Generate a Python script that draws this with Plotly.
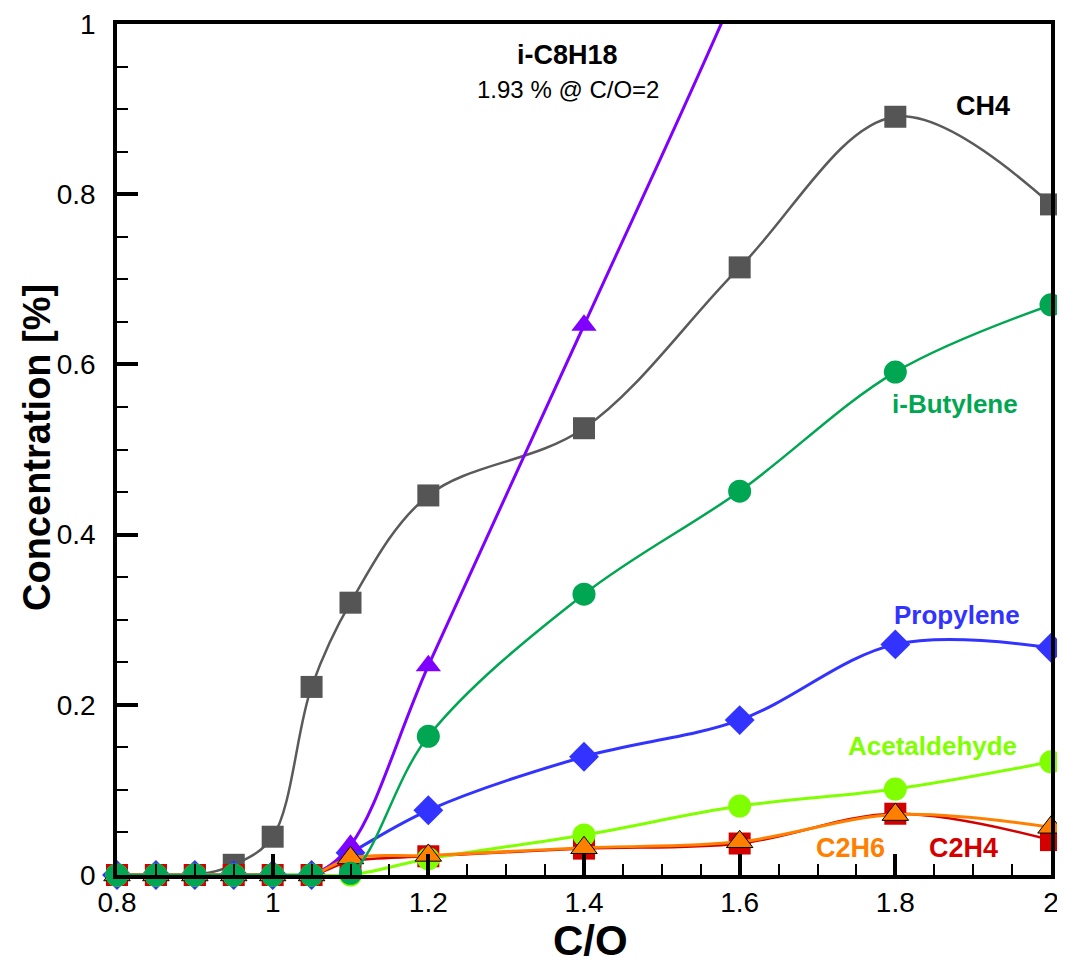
import plotly.graph_objects as go

co = [0.8, 0.85, 0.9, 0.95, 1.0, 1.05, 1.1, 1.2, 1.4, 1.6, 1.8, 2.0]

ch4 = [0, 0, 0, 0.012, 0.045, 0.221, 0.320, 0.446, 0.525, 0.714, 0.891, 0.788]
ic8h18 = [0, 0, 0, 0, 0, 0, 0.035, 0.246, 0.646, 1.05, 1.50, 1.93]
ibutylene = [0, 0, 0, 0, 0, 0, 0.002, 0.163, 0.330, 0.451, 0.591, 0.670]
propylene = [0, 0, 0, 0, 0, 0, 0.026, 0.076, 0.139, 0.182, 0.271, 0.267]
acetaldehyde = [0, 0, 0, 0, 0, 0, 0, 0.019, 0.047, 0.081, 0.101, 0.133]
c2h6 = [0, 0, 0, 0, 0, 0, 0.020, 0.023, 0.032, 0.039, 0.071, 0.056]
c2h4 = [0, 0, 0, 0, 0, 0, 0.016, 0.022, 0.031, 0.037, 0.072, 0.041]

FONT = "Liberation Sans, Arial, sans-serif"

fig = go.Figure()

def add(y, color, symbol, size, lw, lcolor=None, outline=None):
    fig.add_trace(go.Scatter(
        x=co, y=y, mode="lines+markers",
        line=dict(color=lcolor or color, width=lw, shape="spline", smoothing=1.0),
        marker=dict(symbol=symbol, size=size, color=color,
                    line=dict(color=outline or color, width=1 if outline else 0)),
        cliponaxis=False, showlegend=False))

add(ch4, "#555555", "square", 22, 2.5, lcolor="#5a5a5a")
add(c2h4, "#d40000", "square", 22, 2.5)
add(propylene, "#3333ff", "diamond", 23, 3)
add(ic8h18, "#8000ff", "triangle-up", 22, 3)
add(acetaldehyde, "#80ff00", "circle", 23, 3)
add(c2h6, "#ff8000", "triangle-up", 23, 3, outline="#000000")
add(ibutylene, "#00a651", "circle", 23, 2.5)

OFF = 8  # page body margin
W, H = 1057, 957
L, T = 117 - OFF, 24 - OFF
pw, ph = 934, 851
R, B = W - L - pw, H - T - ph

labels = [
    ("<b>i-C8H18</b>", 567, 55, "#000000", 27, 0),
    ("1.93 % @ C/O=2", 568, 90, "#000000", 24, 0),
    ("<b>CH4</b>", 983, 106, "#000000", 27, 0),
    ("<b>i-Butylene</b>", 955, 404, "#00a651", 26, 0),
    ("<b>Propylene</b>", 957, 615, "#3333ff", 26, 0),
    ("<b>Acetaldehyde</b>", 932, 746, "#80ff00", 26, 0),
    ("<b>C2H6</b>", 850, 848, "#ff8000", 27, 0),
    ("<b>C2H4</b>", 963, 848, "#d40000", 27, 0),
    ("<b>C/O</b>", 590, 940, "#000000", 42, 0),
    ("<b>Concentration [%]</b>", 37, 448, "#000000", 38, -90),
]
for txt, px, py, col, fs, ang in labels:
    fig.add_annotation(
        x=(px - OFF - L) / pw, y=1 - (py - OFF - T) / ph, xref="paper", yref="paper",
        text=txt, showarrow=False, textangle=ang,
        font=dict(family=FONT, size=fs, color=col), xanchor="center", yanchor="middle")

axis_common = dict(
    showline=True, linecolor="black", linewidth=3.5, mirror=True,
    ticks="inside", ticklen=21, tickwidth=3.5, tickcolor="black",
    showgrid=False, zeroline=False, automargin=False,
    tickfont=dict(family=FONT, size=28, color="black"),
    minor=dict(ticks="inside", ticklen=11, tickwidth=1.5, tickcolor="black", dtick=0.05, showgrid=False),
)

fig.update_xaxes(range=[0.8, 2.0], dtick=0.2, tick0=0.8, **axis_common)
fig.update_yaxes(range=[0, 1], dtick=0.2, tick0=0, ticklabelstandoff=12, **axis_common)

fig.update_layout(
    width=W, height=H,
    margin=dict(l=L, r=R, t=T, b=B, autoexpand=False),
    plot_bgcolor="white", paper_bgcolor="white",
    font=dict(family=FONT, color="black"),
)

fig.write_html("out.html")
